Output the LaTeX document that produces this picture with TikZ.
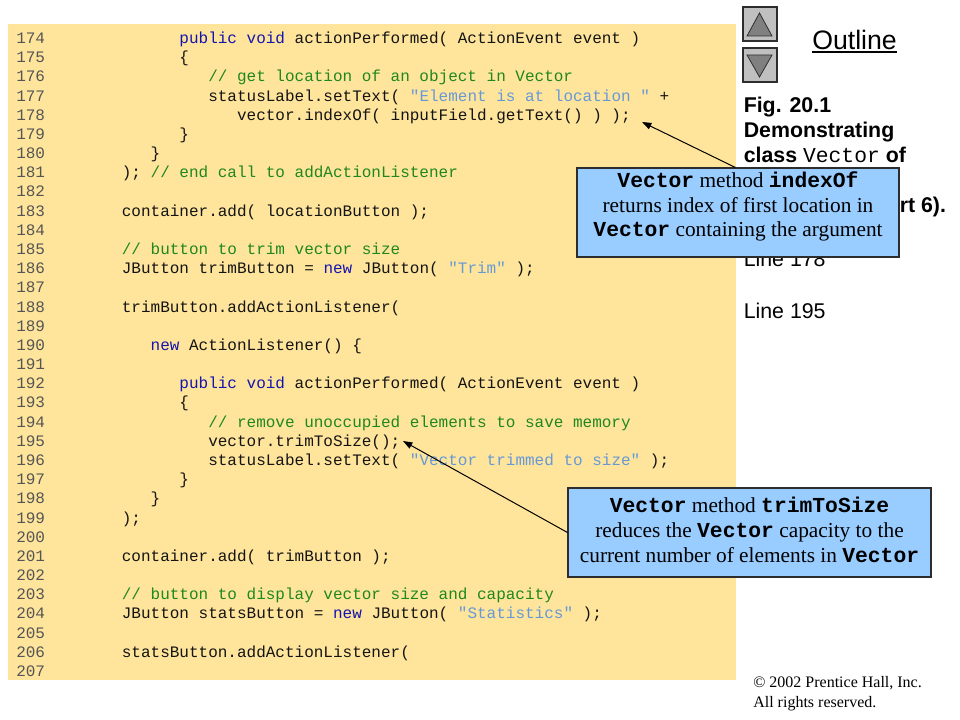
\documentclass[tikz,border=0pt]{standalone}
\usepackage{fontspec}
\usetikzlibrary{arrows.meta}
\setmainfont{Liberation Serif}
\newfontfamily\codefont{Liberation Mono}[WordSpace={1,0,0}]
\newfontfamily\sansfont{Liberation Sans}
\definecolor{codeyellow}{RGB}{255,229,155}
\definecolor{boxblue}{RGB}{153,204,255}
\definecolor{kwc}{RGB}{20,20,175}
\definecolor{cmc}{RGB}{30,135,30}
\definecolor{stc}{RGB}{102,153,214}
\definecolor{lnc}{RGB}{85,85,85}
\definecolor{codec}{RGB}{20,20,20}
\definecolor{btngray}{RGB}{192,192,192}
\definecolor{trigray}{RGB}{128,128,128}
\definecolor{edgegray}{RGB}{45,45,45}
\newcommand{\jkw}[1]{\textcolor{kwc}{#1}}
\newcommand{\jcm}[1]{\textcolor{cmc}{#1}}
\newcommand{\jst}[1]{\textcolor{stc}{#1}}
\newcommand{\cbold}[1]{{\codefont\bfseries #1}}
\tikzset{
  lnum/.style={anchor=base west, inner sep=0pt, font=\codefont\fontsize{12pt}{14pt}\selectfont, text=lnc},
  codetxt/.style={anchor=base west, inner sep=0pt, font=\codefont\fontsize{12pt}{14pt}\selectfont, text=codec},
  captxt/.style={anchor=base west, inner sep=0pt, font=\sansfont\bfseries\fontsize{16pt}{19pt}\selectfont},
  linetxt/.style={anchor=base west, inner sep=0pt, font=\sansfont\fontsize{16pt}{19pt}\selectfont},
  calltxt/.style={anchor=base, inner sep=0pt, font=\fontsize{16pt}{19pt}\selectfont},
  callbox/.style={draw=edgegray, line width=0.8pt, fill=boxblue, inner sep=0pt, minimum height=66.75pt},
  navbtn/.style={draw=edgegray, line width=0.8pt, fill=btngray, inner sep=0pt, minimum width=25.5pt, minimum height=25.5pt},
  navtri/.style={draw=edgegray, line width=0.6pt, fill=trigray},
  callarrow/.style={draw=black, line width=0.75pt, -{Triangle[length=7pt,width=5pt]}},
  copytxt/.style={anchor=base west, inner sep=0pt, font=\fontsize{12pt}{14pt}\selectfont}
}
\newcommand{\codeline}[3]{%
  \node[lnum] (n#1) at (16,{43.5+19.18*(#1-174)}) {#1};
  \node[codetxt] (c#1) at ({16+#2*9.6},{43.5+19.18*(#1-174)}) {#3};}
\newcommand{\blankline}[1]{%
  \node[lnum] (n#1) at (16,{43.5+19.18*(#1-174)}) {#1};}
\begin{document}
\begin{tikzpicture}[x=0.75pt,y=-0.75pt]
\useasboundingbox (0,0) rectangle (960,720);
\fill[white] (0,0) rectangle (960,720);
% code background
\node[fill=codeyellow, inner sep=0pt, minimum width=546pt, minimum height=492pt, anchor=north west] (codebg) at (8,24) {};
% code lines
\codeline{174}{17}{\jkw{public} \jkw{void} actionPerformed( ActionEvent event )}
\codeline{175}{17}{\{}
\codeline{176}{20}{\jcm{// get location of an object in Vector}}
\codeline{177}{20}{statusLabel.setText( \jst{"Element is at location "} +}
\codeline{178}{23}{vector.indexOf( inputField.getText() ) );}
\codeline{179}{17}{\}}
\codeline{180}{14}{\}}
\codeline{181}{11}{); \jcm{// end call to addActionListener}}
\blankline{182}
\codeline{183}{11}{container.add( locationButton );}
\blankline{184}
\codeline{185}{11}{\jcm{// button to trim vector size}}
\codeline{186}{11}{JButton trimButton = \jkw{new} JButton( \jst{"Trim"} );}
\blankline{187}
\codeline{188}{11}{trimButton.addActionListener(}
\blankline{189}
\codeline{190}{14}{\jkw{new} ActionListener() \{}
\blankline{191}
\codeline{192}{17}{\jkw{public} \jkw{void} actionPerformed( ActionEvent event )}
\codeline{193}{17}{\{}
\codeline{194}{20}{\jcm{// remove unoccupied elements to save memory}}
\codeline{195}{20}{vector.trimToSize();}
\codeline{196}{20}{statusLabel.setText( \jst{"Vector trimmed to size"} );}
\codeline{197}{17}{\}}
\codeline{198}{14}{\}}
\codeline{199}{11}{);}
\blankline{200}
\codeline{201}{11}{container.add( trimButton );}
\blankline{202}
\codeline{203}{11}{\jcm{// button to display vector size and capacity}}
\codeline{204}{11}{JButton statsButton = \jkw{new} JButton( \jst{"Statistics"} );}
\blankline{205}
\codeline{206}{11}{statsButton.addActionListener(}
\blankline{207}
% navigation buttons
\node[navbtn] (up) at (760,24) {};
\node[navbtn] (down) at (760,65) {};
\draw[navtri] (759.5,13) -- (772,36) -- (747,36) -- cycle;
\draw[navtri] (747,55) -- (772,55) -- (759.5,77) -- cycle;
% Outline
\node[anchor=base west, inner sep=0pt, font=\sansfont\fontsize{20pt}{24pt}\selectfont] (outline) at (812,49.5) {Outline};
\draw[line width=1.1pt] ([yshift=-1.8pt]outline.base west) -- ([yshift=-1.8pt]outline.base east);
% caption (the parts the callout does not cover)
\node[captxt] (cap1) at (743.5,113) {Fig. 20.1};
\node[captxt] (cap2) at (743.5,138) {Demonstrating};
\node[captxt] (cap3) at (743.5,162.5) {class {\codefont\mdseries Vector} of};
\node[captxt] (cap5) at (899.5,213) {rt 6).};
\node[linetxt] (cap6) at (743.5,267) {Line 178};
\node[linetxt] (cap7) at (743.5,318) {Line 195};
% callout 1
\node[callbox, minimum width=241.5pt] (b1) at (738,212.5) {};
\node[calltxt] (b1a) at (738,188) {\cbold{Vector} method \cbold{indexOf}};
\node[calltxt] (b1b) at (738,212.5) {returns index of first location in};
\node[calltxt] (b1c) at (738,237) {\cbold{Vector} containing the argument};
\coordinate (t1) at (642,122);
\draw[callarrow] ([xshift=-2pt]b1.north) -- (t1);
% callout 2
\node[callbox, minimum width=272.25pt] (b2) at (749.5,532.5) {};
\node[calltxt] (b2a) at (749.5,512) {\cbold{Vector} method \cbold{trimToSize}};
\node[calltxt] (b2b) at (749.5,537) {reduces the \cbold{Vector} capacity to the};
\node[calltxt] (b2c) at (749.5,562) {current number of elements in \cbold{Vector}};
\coordinate (t2) at (403,441);
\draw[callarrow] (b2.west) -- (t2);
% copyright
\node[copytxt] (copy1) at (753,687) {\textcopyright{} 2002 Prentice Hall, Inc.};
\node[copytxt] (copy2) at (753,707) {All rights reserved.};
\end{tikzpicture}
\end{document}
